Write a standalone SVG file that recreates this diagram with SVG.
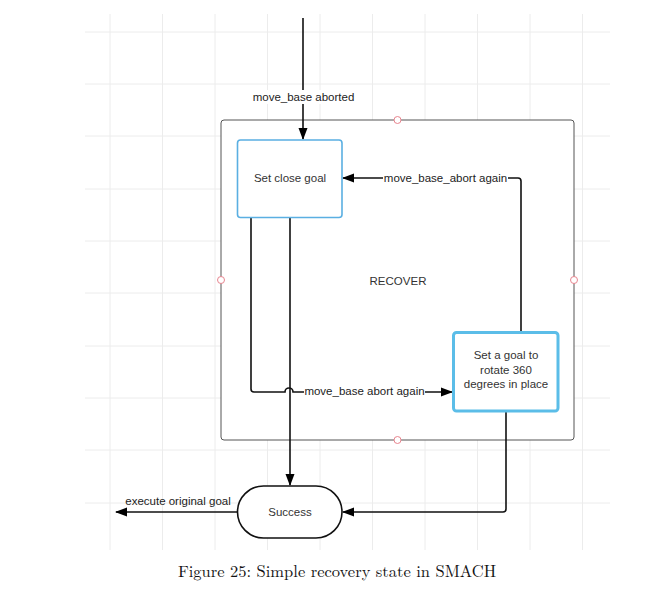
<svg xmlns="http://www.w3.org/2000/svg" width="660" height="612" viewBox="0 0 660 612">
<defs>
<marker id="arr" markerWidth="12" markerHeight="10" refX="11" refY="5" orient="auto" markerUnits="userSpaceOnUse">
<path d="M0,0.5 L12,5 L0,9.5 Z" fill="#000"/>
</marker>
<style>
.grid line{stroke:#ececec;stroke-width:1}
.t{font-family:"Liberation Sans",Arial,sans-serif;font-size:11.5px;fill:#333;text-anchor:middle;dominant-baseline:central}
.lbl{font-family:"Liberation Sans",Arial,sans-serif;font-size:11.5px;fill:#222;text-anchor:middle;dominant-baseline:central}
.c{fill:none;stroke:#111;stroke-width:1.6}
.pt{fill:#fff;stroke:#e8858f;stroke-width:1}
</style>
</defs>
<rect width="660" height="612" fill="#fff"/>
<g class="grid">
<line x1="110" y1="14" x2="110" y2="550"/>
<line x1="162.5" y1="14" x2="162.5" y2="550"/>
<line x1="215" y1="14" x2="215" y2="550"/>
<line x1="267.5" y1="14" x2="267.5" y2="550"/>
<line x1="320" y1="14" x2="320" y2="550"/>
<line x1="372.5" y1="14" x2="372.5" y2="550"/>
<line x1="425" y1="14" x2="425" y2="550"/>
<line x1="477.5" y1="14" x2="477.5" y2="550"/>
<line x1="530" y1="14" x2="530" y2="550"/>
<line x1="582.5" y1="14" x2="582.5" y2="550"/>
<line x1="85" y1="32" x2="610" y2="32"/>
<line x1="85" y1="84" x2="610" y2="84"/>
<line x1="85" y1="136" x2="610" y2="136"/>
<line x1="85" y1="189" x2="610" y2="189"/>
<line x1="85" y1="241" x2="610" y2="241"/>
<line x1="85" y1="293" x2="610" y2="293"/>
<line x1="85" y1="346" x2="610" y2="346"/>
<line x1="85" y1="398" x2="610" y2="398"/>
<line x1="85" y1="450" x2="610" y2="450"/>
<line x1="85" y1="503" x2="610" y2="503"/>
</g>
<g id="recover">
<rect x="221" y="120" width="353" height="320" rx="3" fill="#fff" stroke="#555" stroke-width="1"/>
<text class="t" x="398" y="281">RECOVER</text>
<circle class="pt" cx="397.5" cy="120" r="3.5"/>
<circle class="pt" cx="221" cy="280" r="3.5"/>
<circle class="pt" cx="574" cy="280" r="3.5"/>
<circle class="pt" cx="397.5" cy="440" r="3.5"/>
</g>
<g id="connectors">
<path class="c" d="M303,18 V139" marker-end="url(#arr)"/>
<path class="c" d="M521,331 V181 Q521,178 518,178 H343" marker-end="url(#arr)"/>
<path class="c" d="M251,218 V389 Q251,392 254,392 H285 A4,4 0 0 1 293,392 H452" marker-end="url(#arr)"/>
<path class="c" d="M290,218 V485" marker-end="url(#arr)"/>
<path class="c" d="M506,412 V509 Q506,512 503,512 H343" marker-end="url(#arr)"/>
<path class="c" d="M237,512 H116" marker-end="url(#arr)"/>
<rect x="250" y="90" width="107" height="14" fill="#fff"/>
<text class="lbl" x="303.5" y="97">move_base aborted</text>
<rect x="383" y="171" width="125" height="14" fill="#fff"/>
<text class="lbl" x="445.5" y="178">move_base_abort again</text>
<rect x="304" y="385" width="121" height="14" fill="#fff"/>
<text class="lbl" x="364.5" y="391">move_base abort again</text>
<text class="lbl" x="178" y="501">execute original goal</text>
</g>
<g id="set-close-goal">
<rect x="237.5" y="140" width="104.5" height="77.5" rx="3" fill="#fff" stroke="#5aafe2" stroke-width="1.6"/>
<text class="t" x="290" y="178">Set close goal</text>
</g>
<g id="rotate">
<rect x="453.5" y="332.5" width="104.5" height="78.5" rx="3" fill="#fff" stroke="#5bbde8" stroke-width="3"/>
<text class="t" x="506" y="355">Set a goal to</text>
<text class="t" x="506" y="369.5">rotate 360</text>
<text class="t" x="506" y="383.5">degrees in place</text>
</g>
<g id="success">
<rect x="237.5" y="486" width="104.5" height="52" rx="26" fill="#fff" stroke="#111" stroke-width="1.6"/>
<text class="t" x="290" y="512">Success</text>
</g>
<text x="337" y="577" font-family="'Latin Modern Roman','Liberation Serif',serif" font-size="16.5" fill="#111" text-anchor="middle">Figure 25: Simple recovery state in SMACH</text>
</svg>
